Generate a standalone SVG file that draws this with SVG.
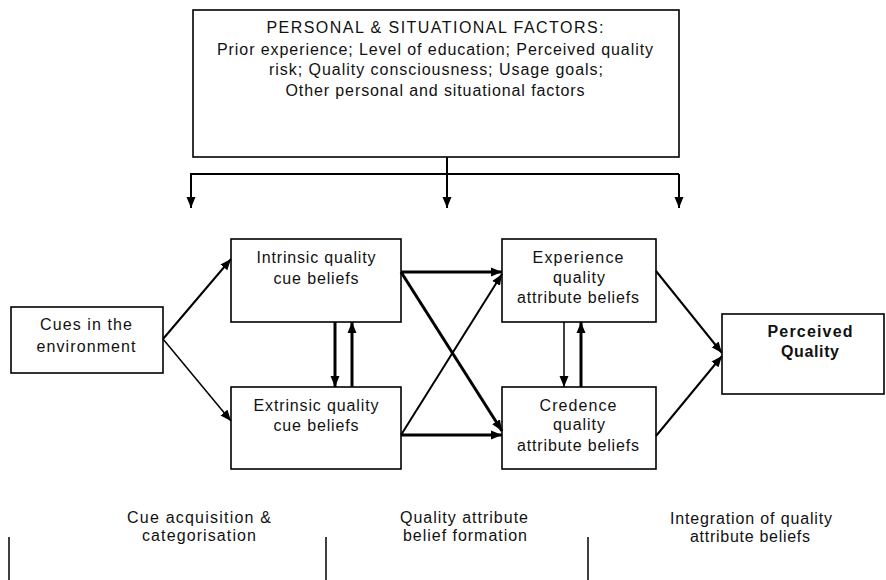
<svg xmlns="http://www.w3.org/2000/svg" width="886" height="580" viewBox="0 0 886 580">
<style>
.box{fill:#fff;stroke:#000;stroke-width:1.6}
.t{font-family:"Liberation Sans",Arial,sans-serif;font-size:16px;fill:#111;text-anchor:middle}
.b{font-weight:bold}
.c{fill:none;stroke:#000}
.w1{stroke-width:1.5}
.w2{stroke-width:2}
.w3{stroke-width:3}
</style>
<defs>
<marker id="ah" markerUnits="userSpaceOnUse" markerWidth="12" markerHeight="10" refX="11" refY="5" orient="auto">
<path d="M0,0.5 L11,5 L0,9.5 Z" fill="#000"/>
</marker>
</defs>
<rect width="886" height="580" fill="#fff"/>

<g id="factors">
<rect class="box" x="193" y="10" width="486" height="147"/>
<text class="t" x="435" y="33" textLength="337" lengthAdjust="spacing">PERSONAL &amp; SITUATIONAL FACTORS:</text>
<text class="t" x="435" y="55" textLength="436" lengthAdjust="spacing">Prior experience; Level of education; Perceived quality</text>
<text class="t" x="436" y="75" textLength="334" lengthAdjust="spacing">risk; Quality consciousness; Usage goals;</text>
<text class="t" x="435" y="96" textLength="299" lengthAdjust="spacing">Other personal and situational factors</text>
</g>

<g id="cues">
<rect class="box" x="11" y="307" width="152" height="66"/>
<text class="t" x="86" y="330" textLength="92" lengthAdjust="spacing">Cues in the</text>
<text class="t" x="86" y="352" textLength="99" lengthAdjust="spacing">environment</text>
</g>

<g id="intrinsic">
<rect class="box" x="231" y="239" width="170" height="83"/>
<text class="t" x="316" y="263" textLength="119" lengthAdjust="spacing">Intrinsic quality</text>
<text class="t" x="316" y="284" textLength="85" lengthAdjust="spacing">cue beliefs</text>
</g>

<g id="extrinsic">
<rect class="box" x="231" y="387" width="170" height="82"/>
<text class="t" x="316" y="411" textLength="125" lengthAdjust="spacing">Extrinsic quality</text>
<text class="t" x="316" y="431" textLength="85" lengthAdjust="spacing">cue beliefs</text>
</g>

<g id="experience">
<rect class="box" x="502" y="239" width="154" height="83"/>
<text class="t" x="578" y="263" textLength="91" lengthAdjust="spacing">Experience</text>
<text class="t" x="579" y="283" textLength="52" lengthAdjust="spacing">quality</text>
<text class="t" x="578" y="303" textLength="122" lengthAdjust="spacing">attribute beliefs</text>
</g>

<g id="credence">
<rect class="box" x="502" y="387" width="154" height="82"/>
<text class="t" x="578" y="411" textLength="77" lengthAdjust="spacing">Credence</text>
<text class="t" x="579" y="430" textLength="52" lengthAdjust="spacing">quality</text>
<text class="t" x="578" y="451" textLength="122" lengthAdjust="spacing">attribute beliefs</text>
</g>

<g id="perceived">
<rect class="box" x="722" y="314" width="162" height="80"/>
<text class="t b" x="810" y="337" textLength="85" lengthAdjust="spacing">Perceived</text>
<text class="t b" x="810" y="357" textLength="58" lengthAdjust="spacing">Quality</text>
</g>

<g id="stages">
<text class="t" x="199" y="523" textLength="144" lengthAdjust="spacing">Cue acquisition &amp;</text>
<text class="t" x="199" y="541" textLength="114" lengthAdjust="spacing">categorisation</text>
<text class="t" x="464" y="523" textLength="128" lengthAdjust="spacing">Quality attribute</text>
<text class="t" x="465" y="541" textLength="124" lengthAdjust="spacing">belief formation</text>
<text class="t" x="751" y="524" textLength="162" lengthAdjust="spacing">Integration of quality</text>
<text class="t" x="750" y="542" textLength="120" lengthAdjust="spacing">attribute beliefs</text>
<line class="c w1" x1="9" y1="537" x2="9" y2="580"/>
<line class="c w1" x1="326" y1="537" x2="326" y2="580"/>
<line class="c w1" x1="588" y1="537" x2="588" y2="580"/>
</g>

<g id="connectors">
<polyline class="c w2" points="447,157 447,174"/>
<line class="c w2" x1="190" y1="174" x2="679" y2="174"/>
<line class="c w2" x1="191" y1="174" x2="191" y2="208" marker-end="url(#ah)"/>
<line class="c w2" x1="447" y1="174" x2="447" y2="208" marker-end="url(#ah)"/>
<line class="c w2" x1="679" y1="174" x2="679" y2="208" marker-end="url(#ah)"/>

<line class="c w2" x1="163" y1="339" x2="231" y2="259" marker-end="url(#ah)"/>
<line class="c w1" x1="163" y1="339" x2="231" y2="421" marker-end="url(#ah)"/>

<line class="c w3" x1="335" y1="322" x2="335" y2="387" marker-end="url(#ah)"/>
<line class="c w3" x1="352" y1="387" x2="352" y2="322" marker-end="url(#ah)"/>

<line class="c w3" x1="401" y1="272" x2="502" y2="272" marker-end="url(#ah)"/>
<line class="c w3" x1="401" y1="435" x2="502" y2="435" marker-end="url(#ah)"/>
<line class="c w3" x1="401" y1="272" x2="502" y2="431" marker-end="url(#ah)"/>
<line class="c w2" x1="401" y1="435" x2="502" y2="274" marker-end="url(#ah)"/>

<line class="c w1" x1="564" y1="322" x2="564" y2="387" marker-end="url(#ah)"/>
<line class="c w3" x1="581" y1="387" x2="581" y2="322" marker-end="url(#ah)"/>

<line class="c w2" x1="656" y1="271" x2="722" y2="353" marker-end="url(#ah)"/>
<line class="c w2" x1="656" y1="436" x2="722" y2="356" marker-end="url(#ah)"/>
</g>
</svg>
